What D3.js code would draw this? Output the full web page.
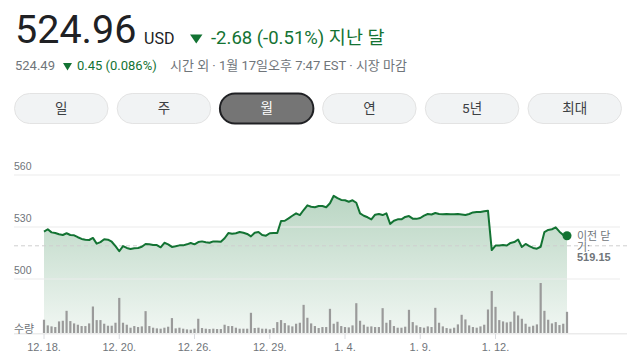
<!DOCTYPE html>
<html>
<head>
<meta charset="utf-8">
<script src="https://cdn.jsdelivr.net/npm/d3@7"></script>
<style>
  body { margin: 0; background: #fff; }
  svg { display: block; }
</style>
</head>
<body>
<svg id="chart"></svg>
<script>
// hourly closes, 12.18 -> 1.17 (7 bars per trading day)
const prices = [
  527.3, 528.7, 526.9, 526.5, 525.8, 525.4, 526.4, 525.4, 525.2, 524.1,
  523.1, 522.7, 522.5, 523.7, 520.4, 521.3, 522.9, 522.7, 521.5, 519.0,
  516.0, 519.0, 517.9, 517.3, 517.7, 517.9, 518.6, 520.2, 520.0, 519.6,
  519.6, 518.3, 520.9, 520.0, 518.5, 518.9, 519.4, 519.4, 520.0, 520.8,
  520.0, 521.3, 521.7, 521.2, 520.9, 521.7, 521.7, 521.5, 523.5, 526.5,
  526.1, 526.4, 527.1, 526.7, 526.0, 524.6, 526.7, 527.1, 525.4, 525.0,
  526.4, 526.5, 526.5, 533.5, 533.6, 535.0, 536.5, 537.9, 536.9, 539.8,
  542.5, 541.7, 541.4, 542.1, 542.1, 541.4, 543.7, 548.0, 546.7, 545.6,
  545.4, 544.6, 545.4, 544.0, 537.9, 536.5, 535.6, 534.4, 537.1, 537.5,
  536.9, 537.9, 531.8, 533.6, 534.4, 534.4, 535.8, 536.3, 534.8, 534.7,
  535.2, 536.6, 537.5, 537.2, 538.1, 537.5, 537.3, 537.5, 537.3, 537.3,
  537.5, 537.2, 536.9, 537.5, 538.4, 538.7, 538.7, 539.1, 539.4, 516.7,
  519.3, 519.3, 519.6, 519.3, 520.8, 521.3, 522.8, 518.5, 520.2, 519.0,
  517.9, 517.5, 518.6, 527.1, 528.3, 528.7, 529.8, 527.3, 525.4, 524.96
];

// hourly volume (relative units)
const volumes = [
  40, 23, 20, 18, 35, 37, 67, 36, 29, 25,
  21, 21, 29, 80, 39, 39, 28, 22, 22, 31,
  106, 31, 25, 16, 21, 18, 20, 66, 21, 16,
  14, 13, 16, 19, 45, 14, 16, 13, 11, 10,
  13, 43, 15, 13, 12, 13, 12, 12, 25, 21,
  21, 16, 13, 13, 13, 61, 15, 16, 13, 13,
  11, 15, 33, 39, 30, 23, 20, 28, 31, 85,
  46, 29, 21, 15, 18, 18, 73, 28, 34, 21,
  18, 17, 23, 90, 37, 25, 19, 20, 18, 18,
  75, 31, 39, 21, 16, 16, 19, 70, 33, 23,
  18, 16, 20, 18, 76, 31, 20, 15, 13, 16,
  26, 55, 41, 23, 18, 16, 20, 25, 71, 127,
  79, 39, 35, 32, 34, 65, 53, 43, 28, 19,
  22, 26, 151, 67, 40, 29, 33, 24, 28, 64
];

const priceTicks = [500, 530, 560];
const dateTickIdx = [0, 20, 40, 60, 80, 100, 120];
const dateTickLabels = ["12. 18.", "12. 20.", "12. 26.", "12. 29.", "1. 4.", "1. 9.", "1. 12."];
const rangeButtons = ["일", "주", "월", "연", "5년", "최대"];
const selectedRange = "월";
const prevClose = 519.15;

const GREEN = "#137333";
const GRAY_TEXT = "#70757a";
const UI_FONT = "Roboto, 'Noto Sans CJK KR', Arial, sans-serif";
const AXIS_FONT = "Arial, 'Liberation Sans', 'Noto Sans CJK KR', sans-serif";

const svg = d3.select("#chart").attr("width", 640).attr("height", 362);

// ---- header ----
const head = svg.append("g").style("font-family", UI_FONT);
head.append("text").attr("x", 15).attr("y", 43)
  .attr("font-size", 39.5).attr("fill", "#202124").text("524.96");
head.append("text").attr("x", 144).attr("y", 44)
  .attr("font-size", 16).attr("fill", "#202124").text("USD");
head.append("path").attr("d", "M190,34.5 L202.5,34.5 L196.25,43.5 Z").attr("fill", GREEN);
head.append("text").attr("x", 211).attr("y", 44)
  .attr("font-size", 18.5).attr("fill", GREEN).text("-2.68 (-0.51%) 지난 달");

head.append("text").attr("x", 15).attr("y", 70)
  .attr("font-size", 13).attr("fill", GRAY_TEXT).text("524.49");
head.append("path").attr("d", "M63,63 L72,63 L67.5,70.5 Z").attr("fill", GREEN);
head.append("text").attr("x", 77).attr("y", 70)
  .attr("font-size", 13).attr("fill", GREEN).text("0.45 (0.086%)");
head.append("text").attr("x", 170).attr("y", 70)
  .attr("font-size", 13).attr("fill", GRAY_TEXT).text("시간 외 · 1월 17일오후 7:47 EST · 시장 마감");

// ---- range buttons ----
const btnX = d3.scaleBand().domain(rangeButtons).range([14, 622]).paddingInner(0.08);
const btn = svg.append("g").selectAll("g").data(rangeButtons).join("g")
  .attr("transform", d => `translate(${btnX(d)},93)`);
btn.append("rect")
  .attr("x", 0.5).attr("y", 0.5)
  .attr("width", btnX.bandwidth() - 1).attr("height", 30)
  .attr("rx", 15)
  .attr("fill", d => d === selectedRange ? "#757575" : "#f1f3f4")
  .attr("stroke", d => d === selectedRange ? "#202124" : "#e3e3e3")
  .attr("stroke-width", d => d === selectedRange ? 2 : 1);
btn.append("text")
  .attr("x", btnX.bandwidth() / 2).attr("y", 20)
  .attr("text-anchor", "middle")
  .style("font-family", UI_FONT).attr("font-size", 13.5)
  .attr("fill", d => d === selectedRange ? "#fff" : "#3c4043")
  .text(d => d);

// ---- chart ----
const x = d3.scaleLinear().domain([0, prices.length - 1]).range([44, 567]);
const y = d3.scaleLinear().domain([500, 560]).range([279, 175]);
const yVol = d3.scaleLinear().domain([0, d3.max(volumes)]).range([333, 283]);

const defs = svg.append("defs");
const grad = defs.append("linearGradient").attr("id", "areaFill")
  .attr("gradientUnits", "userSpaceOnUse")
  .attr("x1", 0).attr("x2", 0).attr("y1", y(550)).attr("y2", yVol(0));
grad.append("stop").attr("offset", 0).attr("stop-color", GREEN).attr("stop-opacity", 0.3);
grad.append("stop").attr("offset", 1).attr("stop-color", GREEN).attr("stop-opacity", 0.06);

const chart = svg.append("g");

chart.append("path")
  .datum(prices)
  .attr("fill", "url(#areaFill)")
  .attr("d", d3.area().x((d, i) => x(i)).y0(yVol(0)).y1(d => y(d)));

// gridlines + labels
chart.selectAll(".grid").data(priceTicks).join("line")
  .attr("class", "grid")
  .attr("x1", 14).attr("x2", 620)
  .attr("y1", d => y(d)).attr("y2", d => y(d))
  .attr("stroke", "#ebebeb").attr("stroke-width", 1.2);
chart.selectAll(".ylab").data(priceTicks).join("text")
  .attr("class", "ylab")
  .attr("x", 14).attr("y", d => y(d) - 5)
  .style("font-family", AXIS_FONT).attr("font-size", 10.5)
  .attr("fill", GRAY_TEXT).text(d => d);

// previous close reference
chart.append("line")
  .attr("x1", 14).attr("x2", 627)
  .attr("y1", y(prevClose)).attr("y2", y(prevClose))
  .attr("stroke", "#cfcfcf").attr("stroke-dasharray", "4,3");

// volume
chart.append("line")
  .attr("x1", 14).attr("x2", 627)
  .attr("y1", yVol(0) + 0.8).attr("y2", yVol(0) + 0.8)
  .attr("stroke", "#ebebeb").attr("stroke-width", 1.5);
chart.selectAll(".vol").data(volumes).join("rect")
  .attr("class", "vol")
  .attr("x", (d, i) => x(i) - 1.1)
  .attr("width", 2.2)
  .attr("y", d => yVol(d))
  .attr("height", d => yVol(0) - yVol(d))
  .attr("fill", "#9a9a9a");
chart.append("text")
  .attr("x", 14).attr("y", 333)
  .style("font-family", AXIS_FONT).attr("font-size", 11)
  .attr("fill", GRAY_TEXT).text("수량");

// date axis
chart.selectAll(".xtick").data(dateTickIdx).join("line")
  .attr("class", "xtick")
  .attr("x1", d => x(d)).attr("x2", d => x(d))
  .attr("y1", yVol(0) + 1).attr("y2", yVol(0) + 6)
  .attr("stroke", "#dadce0");
chart.selectAll(".xlab").data(dateTickIdx).join("text")
  .attr("class", "xlab")
  .attr("x", d => x(d)).attr("y", 351)
  .attr("text-anchor", "middle")
  .style("font-family", AXIS_FONT).attr("font-size", 11)
  .attr("fill", GRAY_TEXT)
  .text((d, i) => dateTickLabels[i]);

// price line
chart.append("path")
  .datum(prices)
  .attr("fill", "none")
  .attr("stroke", GREEN).attr("stroke-width", 2)
  .attr("stroke-linejoin", "round")
  .attr("d", d3.line().x((d, i) => x(i)).y(d => y(d)));

const last = prices.length - 1;
chart.append("circle")
  .attr("cx", x(last)).attr("cy", y(prices[last]))
  .attr("r", 4.5).attr("fill", GREEN);

// previous close label
const pc = chart.append("text")
  .style("font-family", AXIS_FONT).attr("font-size", 11)
  .attr("fill", GRAY_TEXT);
pc.append("tspan").attr("x", 577).attr("y", 240).text("이전 닫");
pc.append("tspan").attr("x", 577).attr("y", 250.5).text("기:");
pc.append("tspan").attr("x", 577).attr("y", 261).attr("font-weight", "bold").text(prevClose.toFixed(2));
</script>
</body>
</html>
